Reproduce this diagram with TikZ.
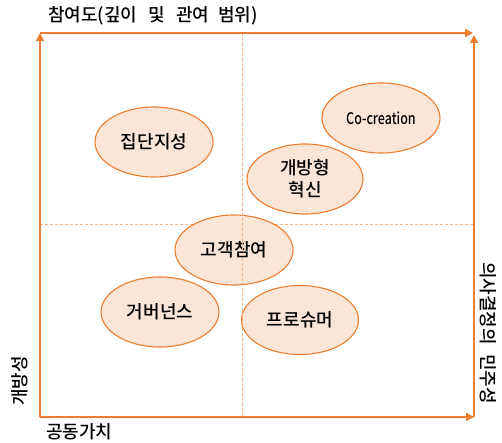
\documentclass[tikz,border=0pt]{standalone}
\usepackage{fontspec}
\setmainfont{Noto Sans CJK KR}[BoldFont={Noto Sans CJK KR Medium}]
\usetikzlibrary{shapes.geometric,arrows.meta}
\definecolor{axisor}{HTML}{ED7D31}
\definecolor{dashor}{HTML}{F4B183}
\definecolor{fillor}{HTML}{FBE5D6}
\begin{document}
\begin{tikzpicture}[x=1pt,y=-1pt,
  axisline/.style={draw=axisor,line width=1.4pt,-{Triangle[length=8pt,width=8pt]}},
  guide/.style={draw=dashor,line width=0.8pt,dash pattern=on 3pt off 2pt},
  blob/.style={ellipse,draw=axisor,line width=1.1pt,fill=fillor,inner sep=0pt,
    minimum width=118pt,minimum height=70pt,font=\fontsize{18}{22}\selectfont\bfseries,align=center},
  lbl/.style={font=\fontsize{18}{20}\selectfont\bfseries,inner sep=0pt}]
\useasboundingbox (0,0) rectangle (502,443);
\coordinate (bl) at (40,417);
\coordinate (tl) at (40,33);
\coordinate (tr) at (473,33);
\coordinate (br) at (474,417);
\coordinate (trr) at (474,35);
\coordinate (vt) at (242,33);
\coordinate (vb) at (242,417);
\coordinate (hl) at (40,224);
\coordinate (hr) at (474,224);
% horizontal guide behind ellipses
\draw[guide] (hl) -- (hr);
% ellipses
\node[blob] (jd) at (154,142) {집단지성};
\node[blob] (co) at (381,118) {\fontsize{16}{18}\selectfont\scalebox{0.78}[1]{Co-creation}};
\node[blob,minimum width=116pt] (gb) at (305,179) {개방형\\혁신};
\node[blob] (gg) at (234,250) {고객참여};
\node[blob] (gv) at (160,312) {거버넌스};
\node[blob,minimum width=117pt,minimum height=69pt] (ps) at (300,320) {프로슈머};
% vertical guide over ellipses
\draw[guide] (vt) -- (vb);
% axes
\draw[axisline] (bl) -- (tl);
\draw[axisline] (tl) -- (tr);
\draw[axisline] (bl) -- (br);
\draw[axisline] (br) -- (trr);
% labels
\node[lbl,anchor=west] (top) at (48,16) {참여도(깊이\hspace{7pt} 및\hspace{7pt} 관여\hspace{5pt} 범위)};
\node[lbl,anchor=west] (bot) at (46,432) {공동가치};
\node[lbl,rotate=90] (lft) at (20,381) {개방성};
\node[lbl,rotate=-90] (rgt) at (488,333) {의사결정의\hspace{5pt} 민주성};
\end{tikzpicture}
\end{document}
